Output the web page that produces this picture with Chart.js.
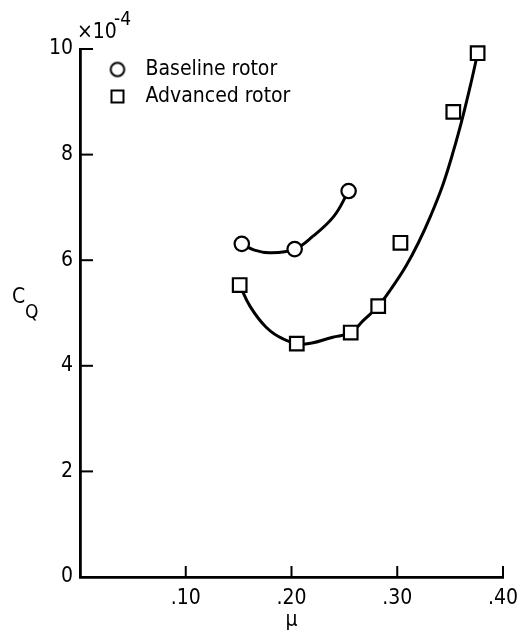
<!DOCTYPE html>
<html>
<head>
<meta charset="utf-8">
<script src="https://cdn.jsdelivr.net/npm/chart.js@4.4.1/dist/chart.umd.min.js"></script>
<style>
  html, body { margin: 0; padding: 0; background: #fff; }
  #wrap { width: 519px; height: 633px; position: relative; }
</style>
</head>
<body>
<div id="wrap"><canvas id="c" width="519" height="633"></canvas></div>
<script>
// ---- data ----
const baselineMu = [0.153, 0.203, 0.254];
const baselineCQ = [6.31, 6.21, 7.31];
const advancedMu = [0.151, 0.205, 0.256, 0.282, 0.303, 0.353, 0.376];
const advancedCQ = [5.53, 4.42, 4.63, 5.13, 6.33, 8.81, 9.92];
// faired curves
const baselineCurveMu = [0.153, 0.165, 0.180, 0.203, 0.220, 0.240, 0.254];
const baselineCurveCQ = [6.31, 6.19, 6.14, 6.21, 6.45, 6.83, 7.31];
const advancedCurveMu = [0.151, 0.161, 0.176, 0.192, 0.211, 0.239, 0.256, 0.268, 0.282, 0.295, 0.308, 0.320, 0.332, 0.343, 0.353, 0.362, 0.370, 0.376];
const advancedCurveCQ = [5.53, 5.12, 4.73, 4.51, 4.41, 4.54, 4.63, 4.86, 5.13, 5.48, 5.88, 6.33, 6.86, 7.42, 8.06, 8.72, 9.38, 9.92];
const xTicks = [0, 0.10, 0.20, 0.30, 0.40];
const xTickLabels = ['', '.10', '.20', '.30', '.40'];
const yTicks = [0, 2, 4, 6, 8, 10];
const yTickLabels = ['0', '2', '4', '6', '8', '10'];
const legendLabels = ['Baseline rotor', 'Advanced rotor'];

const FONT = "'Liberation Sans Narrow', 'DejaVu Sans Condensed', 'Roboto Condensed', 'Liberation Sans', sans-serif";
const INK = '#000';

function pts(xs, ys) { return xs.map((x, i) => ({ x: x, y: ys[i] })); }

function makeIcon(kind) {
  const c = document.createElement('canvas');
  c.width = 18; c.height = 18;
  const g = c.getContext('2d');
  g.strokeStyle = INK; g.lineWidth = 2; g.fillStyle = '#fff';
  if (kind === 'circle') { g.beginPath(); g.arc(9, 9, 6.8, 0, Math.PI * 2); g.fill(); g.stroke(); }
  else { g.fillRect(3, 3, 12, 12); g.strokeRect(3, 3, 12, 12); }
  return c;
}
const icons = [makeIcon('circle'), makeIcon('rect')];

const axisDecor = {
  id: 'axisDecor',
  afterLayout(chart) {
    const lg = chart.legend;
    if (lg) { lg.left = 94; lg.top = 53; }
  },
  afterDraw(chart) {
    const ctx = chart.ctx;
    const xs = chart.scales.x, ys = chart.scales.y;
    const ca = chart.chartArea;
    ctx.save();
    ctx.strokeStyle = INK; ctx.lineWidth = 2;
    // inward ticks
    xTicks.forEach(v => {
      if (v === 0) return;
      const px = xs.getPixelForValue(v);
      ctx.beginPath(); ctx.moveTo(px, ca.bottom); ctx.lineTo(px, ca.bottom - 11); ctx.stroke();
    });
    yTicks.forEach(v => {
      if (v === 0) return;
      const py = ys.getPixelForValue(v);
      ctx.beginPath(); ctx.moveTo(ca.left, py); ctx.lineTo(ca.left + 13, py); ctx.stroke();
    });
    // axis titles
    ctx.fillStyle = INK;
    ctx.textBaseline = 'alphabetic';
    ctx.textAlign = 'left';
    ctx.font = '21px ' + FONT;
    ctx.fillText('C', 12, 303);
    ctx.font = '19px ' + FONT;
    ctx.fillText('Q', 25, 318);
    ctx.font = '21px ' + FONT;
    ctx.fillText('\u00d710', 77, 38);
    ctx.font = '19px ' + FONT;
    ctx.fillText('-4', 114, 25);
    ctx.restore();
  }
};

new Chart(document.getElementById('c'), {
  type: 'scatter',
  data: {
    datasets: [
      {
        label: legendLabels[0],
        data: pts(baselineMu, baselineCQ),
        pointStyle: 'circle', pointRadius: 7.2, pointBorderWidth: 2.2,
        pointBackgroundColor: '#fff', pointBorderColor: INK,
        showLine: false, order: 0, clip: false
      },
      {
        label: legendLabels[1],
        data: pts(advancedMu, advancedCQ),
        pointStyle: 'rect', pointRadius: 9.6, pointBorderWidth: 2.2,
        pointBackgroundColor: '#fff', pointBorderColor: INK,
        showLine: false, order: 1, clip: false
      },
      {
        label: 'curve-baseline',
        data: pts(baselineCurveMu, baselineCurveCQ),
        showLine: true, borderColor: INK, borderWidth: 3, pointRadius: 0,
        tension: 0.4, fill: false, order: 2, clip: false
      },
      {
        label: 'curve-advanced',
        data: pts(advancedCurveMu, advancedCurveCQ),
        showLine: true, borderColor: INK, borderWidth: 3, pointRadius: 0,
        tension: 0.4, fill: false, order: 3, clip: false
      }
    ]
  },
  options: {
    responsive: false,
    animation: false,
    devicePixelRatio: 1,
    layout: { padding: { left: 0, right: 16, top: 49, bottom: 0 } },
    plugins: {
      tooltip: { enabled: false },
      legend: {
        position: 'chartArea',
        align: 'start',
        labels: {
          usePointStyle: true,
          pointStyleWidth: 35,
          padding: 6,
          color: INK,
          font: { family: FONT, size: 21 },
          generateLabels: (chart) => {
            return legendLabels.map((t, i) => ({
              text: t, pointStyle: icons[i], datasetIndex: i,
              fillStyle: '#fff', strokeStyle: INK, lineWidth: 0, hidden: false,
              fontColor: INK
            }));
          }
        }
      }
    },
    scales: {
      x: {
        type: 'linear', min: 0, max: 0.4,
        afterFit: (s) => { s.height = 56; s.paddingLeft = 0; s.paddingRight = 0; },
        afterBuildTicks: (s) => { s.ticks = xTicks.map(v => ({ value: v })); },
        grid: { display: false, drawTicks: false },
        border: { display: true, color: INK, width: 2.8 },
        ticks: {
          color: INK, padding: 9, maxRotation: 0,
          font: { family: FONT, size: 21 },
          callback: (v) => { const i = xTicks.indexOf(v); return i >= 0 ? xTickLabels[i] : ''; }
        },
        title: { display: true, text: '\u03bc', color: INK, padding: { top: 0, bottom: 0 }, font: { family: FONT, size: 21 } }
      },
      y: {
        type: 'linear', min: 0, max: 10,
        afterFit: (s) => { s.width = 80; s.paddingTop = 0; s.paddingBottom = 0; },
        afterBuildTicks: (s) => { s.ticks = yTicks.map(v => ({ value: v })); },
        grid: { display: false, drawTicks: false },
        border: { display: true, color: INK, width: 2.8 },
        ticks: {
          color: INK, padding: 7,
          font: { family: FONT, size: 21 },
          callback: (v) => { const i = yTicks.indexOf(v); return i >= 0 ? yTickLabels[i] : ''; }
        }
      }
    }
  },
  plugins: [axisDecor]
});
</script>
</body>
</html>
